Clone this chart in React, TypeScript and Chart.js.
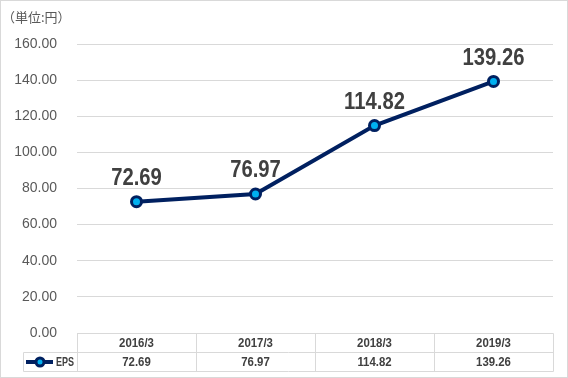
import React, { useEffect, useRef } from 'react';
import { Chart, registerables } from 'chart.js';

Chart.register(...registerables);

const categories = ['2016/3', '2017/3', '2018/3', '2019/3'];
const epsValues = [72.69, 76.97, 114.82, 139.26];
const seriesName = 'EPS';
const unitLabel = '（単位:円）';
const yMin = 0;
const yMax = 160;
const yStep = 20;

const LINE = '#002060';
const MARK = '#00B0F0';
const GRID = '#d9d9d9';
const TEXT = '#595959';
const DARK = '#404040';

function drawScaledText(ctx: any, text: string, x: number, y: number, sx: number) {
  ctx.save();
  ctx.translate(x, y);
  ctx.scale(sx, 1);
  ctx.fillText(text, 0, 0);
  ctx.restore();
}

const tablePlugin = {
  id: 'tablePlugin',
  afterDraw(chart: any) {
    const ctx = chart.ctx;
    const area = chart.chartArea;
    const xs = chart.scales.x;
    ctx.save();
    // outer border
    ctx.strokeStyle = GRID;
    ctx.lineWidth = 1;
    ctx.strokeRect(0.5, 0.5, chart.width - 1, chart.height - 1);

    // unit label
    ctx.fillStyle = TEXT;
    ctx.font = '13px "Noto Sans CJK JP", sans-serif';
    ctx.textAlign = 'left';
    ctx.textBaseline = 'middle';
    ctx.fillText(unitLabel, 2, 17);

    // table
    const rowH = 19;
    const top = Math.round(area.bottom) + 0.5;
    const mid = top + rowH;
    const bot = mid + rowH;
    const legendLeft = 23.5;
    const n = categories.length;
    const colW = xs.getPixelForValue(1) - xs.getPixelForValue(0);
    const edges: number[] = [];
    for (let i = 0; i < n; i++) edges.push(Math.round(xs.getPixelForValue(i) - colW / 2) + 0.5);
    edges.push(Math.round(xs.getPixelForValue(n - 1) + colW / 2) + 0.5);
    ctx.strokeStyle = GRID;
    ctx.lineWidth = 1;
    ctx.beginPath();
    ctx.moveTo(edges[0], top); ctx.lineTo(edges[n], top);
    ctx.moveTo(legendLeft, mid); ctx.lineTo(edges[n], mid);
    ctx.moveTo(legendLeft, bot); ctx.lineTo(edges[n], bot);
    ctx.moveTo(legendLeft, mid); ctx.lineTo(legendLeft, bot);
    for (const e of edges) { ctx.moveTo(e, top); ctx.lineTo(e, bot); }
    ctx.stroke();

    ctx.fillStyle = DARK;
    ctx.font = 'bold 12px "Liberation Sans", sans-serif';
    ctx.textAlign = 'center';
    ctx.textBaseline = 'middle';
    for (let i = 0; i < n; i++) {
      const cx = xs.getPixelForValue(i);
      drawScaledText(ctx, categories[i], cx, top + rowH / 2 + 0.5, 0.95);
      drawScaledText(ctx, epsValues[i].toFixed(2), cx, mid + rowH / 2 + 0.5, 0.95);
    }
    // legend key
    const ly = mid + rowH / 2;
    ctx.strokeStyle = LINE;
    ctx.lineWidth = 4;
    ctx.beginPath();
    ctx.moveTo(26, ly); ctx.lineTo(53, ly);
    ctx.stroke();
    ctx.beginPath();
    ctx.arc(40, ly, 4, 0, Math.PI * 2);
    ctx.fillStyle = MARK;
    ctx.fill();
    ctx.lineWidth = 3;
    ctx.stroke();
    ctx.fillStyle = DARK;
    ctx.textAlign = 'left';
    drawScaledText(ctx, seriesName, 56, ly + 0.5, 0.75);

    ctx.restore();
  },
  afterDatasetsDraw(chart: any) {
    const ctx = chart.ctx;
    const meta = chart.getDatasetMeta(0);
    ctx.save();
    ctx.fillStyle = DARK;
    ctx.font = 'bold 23px "Liberation Sans", sans-serif';
    ctx.textAlign = 'center';
    ctx.textBaseline = 'middle';
    meta.data.forEach((pt: any, i: number) => {
      drawScaledText(ctx, epsValues[i].toFixed(2), pt.x, pt.y - 23, 0.88);
    });
    ctx.restore();
  },
};

export default function App() {
  const ref = useRef<HTMLCanvasElement | null>(null);
  useEffect(() => {
    document.body.style.margin = '0';
    const chart = new Chart(ref.current as HTMLCanvasElement, {
      type: 'line',
      data: {
        labels: categories,
        datasets: [
          {
            label: seriesName,
            data: epsValues,
            borderColor: LINE,
            borderWidth: 4,
            pointRadius: 5,
            pointBorderWidth: 3,
            pointBackgroundColor: MARK,
            pointBorderColor: LINE,
            tension: 0,
          },
        ],
      },
      options: {
        responsive: false,
        animation: false,
        devicePixelRatio: 1,
        layout: { padding: { top: 44, right: 15, bottom: 45, left: 0 } },
        plugins: { legend: { display: false }, tooltip: { enabled: false }, title: { display: false } },
        scales: {
          x: {
            display: false,
            offset: true,
          },
          y: {
            min: yMin,
            max: yMax,
            afterFit: (s: any) => { s.width = 77; },
            border: { display: false },
            grid: { color: GRID, drawTicks: false },
            ticks: {
              stepSize: yStep,
              padding: 20,
              color: TEXT,
              font: { family: '"Liberation Sans", sans-serif', size: 14 },
              callback: (v: any) => Number(v).toFixed(2),
            },
          },
        },
      },
      plugins: [tablePlugin],
    });
    return () => chart.destroy();
  }, []);
  return (
    <div style={{ position: 'fixed', left: 0, top: 0, width: 568, height: 378, background: '#fff' }}>
      <canvas ref={ref} width={568} height={378} />
    </div>
  );
}
